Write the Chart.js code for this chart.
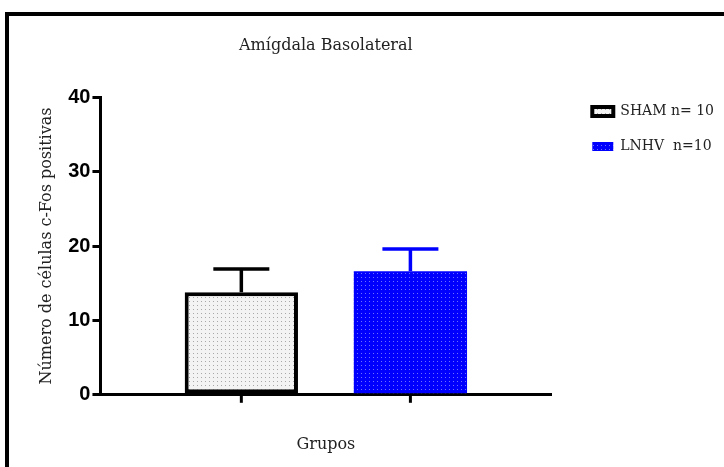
<!DOCTYPE html>
<html>
<head>
<meta charset="utf-8">
<script src="https://cdn.jsdelivr.net/npm/chart.js@4.4.0/dist/chart.umd.min.js"></script>
<style>
  html, body { margin: 0; padding: 0; background: #fff; }
  #wrap { position: relative; width: 724px; height: 467px; overflow: hidden; }
  #frame { position: absolute; left: 5px; top: 12px; width: 760px; height: 500px; border: 4px solid #000; box-sizing: border-box; pointer-events: none; }
  canvas { position: absolute; left: 0; top: 0; }
</style>
</head>
<body>
<div id="wrap">
  <canvas id="myChart" width="724" height="467"></canvas>
  <div id="frame"></div>
</div>
<script>
var groups = ['SHAM n= 10', 'LNHV  n=10'];
var means = [13.8, 16.6];
var errors = [3.1, 3.0];
var yTicks = [0, 10, 20, 30, 40];

var serif = '"DejaVu Serif", "Liberation Serif", serif';

function dots(bg, dot) {
  var c = document.createElement('canvas');
  c.width = 4; c.height = 4;
  var g = c.getContext('2d');
  g.fillStyle = bg;
  g.fillRect(0, 0, 4, 4);
  g.fillStyle = dot;
  g.fillRect(1, 1, 1, 1);
  return g.createPattern(c, 'repeat');
}

var ctx = document.getElementById('myChart').getContext('2d');

var patternSham = dots('#f3f3f3', '#a8a8a8');
var patternLnhv = dots('#0000ff', '#7070ff');

// error bars + tick marks under each bar
var errorBars = {
  id: 'errorBars',
  afterDatasetsDraw: function(chart) {
    var c = chart.ctx;
    var y = chart.scales.y;
    chart.data.datasets.forEach(function(ds, i) {
      var bar = chart.getDatasetMeta(i).data[0];
      var top = y.getPixelForValue(ds.data[0] + ds.errorValue);
      c.save();
      c.strokeStyle = ds.errorColor;
      c.lineWidth = 3.5;
      c.beginPath();
      c.moveTo(bar.x, bar.y);
      c.lineTo(bar.x, top);
      c.moveTo(bar.x - 28, top);
      c.lineTo(bar.x + 28, top);
      c.stroke();
      c.strokeStyle = '#000';
      c.lineWidth = 3;
      c.beginPath();
      c.moveTo(bar.x, chart.chartArea.bottom);
      c.lineTo(bar.x, chart.chartArea.bottom + 8);
      c.stroke();
      c.restore();
    });
  }
};

new Chart(ctx, {
  type: 'bar',
  data: {
    labels: ['Grupos'],
    datasets: [{
      label: groups[0],
      data: [means[0]],
      errorValue: errors[0],
      errorColor: '#000',
      backgroundColor: patternSham,
      borderColor: '#000',
      borderWidth: 4,
      borderSkipped: false,
      categoryPercentage: 0.75,
      barPercentage: 0.67
    }, {
      label: groups[1],
      data: [means[1]],
      errorValue: errors[1],
      errorColor: '#0000ff',
      backgroundColor: patternLnhv,
      borderColor: '#0000ff',
      borderWidth: 0,
      categoryPercentage: 0.75,
      barPercentage: 0.67
    }]
  },
  plugins: [errorBars],
  options: {
    responsive: false,
    animation: false,
    layout: { padding: { left: 33, top: 0, right: 0, bottom: 9 } },
    plugins: {
      title: {
        display: true,
        text: 'Amígdala Basolateral',
        fullSize: false,
        color: '#222',
        font: { family: serif, size: 16, weight: 'normal' },
        padding: { top: 36, bottom: 42 }
      },
      legend: {
        position: 'right',
        align: 'start',
        maxWidth: 220,
        title: { display: true, text: '', padding: { top: 69, bottom: 0 } },
        labels: {
          boxWidth: 21,
          boxHeight: 9,
          padding: 21,
          color: '#222',
          font: { family: serif, size: 14 }
        }
      },
      tooltip: { enabled: false }
    },
    scales: {
      x: {
        grid: { display: false },
        border: { color: '#000', width: 3 },
        ticks: { display: false },
        title: {
          display: true,
          text: 'Grupos',
          color: '#222',
          font: { family: serif, size: 16 },
          padding: { top: 32 }
        }
      },
      y: {
        min: 0,
        max: 40,
        afterBuildTicks: function(axis) {
          axis.ticks = yTicks.map(function(v) { return { value: v }; });
        },
        grid: { drawOnChartArea: false, color: '#000', lineWidth: 3, tickLength: 8 },
        border: { color: '#000', width: 3 },
        ticks: {
          color: '#000',
          padding: 2,
          font: { family: '"Liberation Sans", Arial, sans-serif', size: 20, weight: 'bold' }
        },
        title: {
          display: true,
          text: 'Número de células c-Fos positivas',
          color: '#222',
          font: { family: serif, size: 16 },
          padding: { bottom: 10 }
        }
      },
      gap: {
        position: 'right',
        display: true,
        grid: { display: false },
        border: { display: false },
        ticks: { display: false },
        afterFit: function(scale) { scale.width = 20; }
      }
    }
  }
});
</script>
</body>
</html>
